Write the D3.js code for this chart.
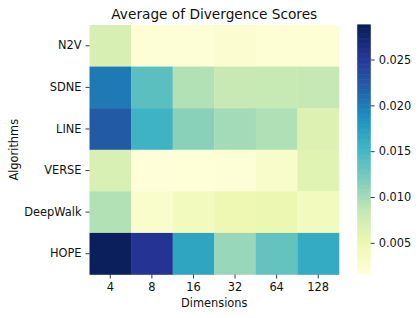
<!DOCTYPE html>
<html>
<head>
<meta charset="utf-8">
<script src="https://cdn.jsdelivr.net/npm/d3@7"></script>
<style>
  html, body { margin: 0; padding: 0; background: #fff; }
  svg { display: block; font-family: "DejaVu Sans", sans-serif; }
</style>
</head>
<body>
<svg id="chart" width="420" height="318"></svg>
<script>
const algorithms = ["N2V", "SDNE", "LINE", "VERSE", "DeepWalk", "HOPE"];
const dimensions = ["4", "8", "16", "32", "64", "128"];
const n2v      = [0.0070, 0.0019, 0.0019, 0.0024, 0.0020, 0.0020];
const sdne     = [0.0202, 0.0138, 0.0094, 0.0083, 0.0084, 0.0085];
const line     = [0.0223, 0.0155, 0.0113, 0.0101, 0.0095, 0.0064];
const verse    = [0.0069, 0.0017, 0.0018, 0.0019, 0.0029, 0.0062];
const deepwalk = [0.0094, 0.0027, 0.0039, 0.0049, 0.0051, 0.0040];
const hope     = [0.0285, 0.0254, 0.0168, 0.0106, 0.0133, 0.0163];
const rows = [n2v, sdne, line, verse, deepwalk, hope];
const colorbarTicks = [0.005, 0.010, 0.015, 0.020, 0.025];
const vmin = 0.0016, vmax = 0.0288;
const ylgnbu = ["#ffffd9", "#edf8b1", "#c7e9b4", "#7fcdbb", "#41b6c4", "#1d91c0", "#225ea8", "#253494", "#081d58"];

(function () {
const svg = d3.select("#chart");
const pLeft = 89.5, pRight = 339, pTop = 25, pBottom = 274.5;
const tickFont = "11.4px";

const x = d3.scaleBand().domain(dimensions).range([pLeft, pRight]);
const y = d3.scaleBand().domain(algorithms).range([pTop, pBottom]);
const color = d3.scaleLinear()
  .domain(d3.range(ylgnbu.length).map(i => vmin + (vmax - vmin) * i / (ylgnbu.length - 1)))
  .range(ylgnbu)
  .clamp(true);

const cells = [];
rows.forEach((r, i) => r.forEach((v, j) => cells.push({ alg: algorithms[i], dim: dimensions[j], v })));

svg.append("g").selectAll("rect").data(cells).join("rect")
  .attr("x", d => x(d.dim))
  .attr("y", d => y(d.alg))
  .attr("width", x.bandwidth() + 0.3)
  .attr("height", y.bandwidth() + 0.3)
  .attr("fill", d => color(d.v));

const xAxis = svg.append("g").attr("transform", `translate(0,${pBottom})`)
  .call(d3.axisBottom(x).tickSize(4).tickPadding(4));
const yAxis = svg.append("g").attr("transform", `translate(${pLeft},0)`)
  .call(d3.axisLeft(y).tickSize(4).tickPadding(4));
[xAxis, yAxis].forEach(a => {
  a.select(".domain").remove();
  a.selectAll("line").attr("stroke", "#222").attr("stroke-width", 0.9);
  a.selectAll("text").attr("fill", "#111").style("font-size", tickFont).style("font-family", "DejaVu Sans, sans-serif");
});

svg.append("text").attr("x", (pLeft + pRight) / 2).attr("y", 19)
  .attr("text-anchor", "middle").style("font-size", "13.7px").attr("fill", "#111")
  .text("Average of Divergence Scores");
svg.append("text").attr("x", (pLeft + pRight) / 2).attr("y", 306.5)
  .attr("text-anchor", "middle").style("font-size", tickFont).attr("fill", "#111")
  .text("Dimensions");
svg.append("text").attr("transform", `translate(18,${(pTop + pBottom) / 2}) rotate(-90)`)
  .attr("text-anchor", "middle").style("font-size", tickFont).attr("fill", "#111")
  .text("Algorithms");

const cbX = 357.3, cbW = 13.4, cbTop = 24.7, cbBottom = 274;
const cy = d3.scaleLinear().domain([vmin, vmax]).range([cbBottom, cbTop]);
const nSteps = 200;
const steps = d3.range(0, nSteps).map(i => vmin + (vmax - vmin) * i / nSteps);
const stepH = (cbBottom - cbTop) / nSteps;
svg.append("g").selectAll("rect").data(steps).join("rect")
  .attr("x", cbX).attr("width", cbW)
  .attr("y", d => cy(d) - stepH - 0.3)
  .attr("height", stepH + 0.6)
  .attr("fill", d => color(d + (vmax - vmin) / (2 * nSteps)));
const cAxis = svg.append("g").attr("transform", `translate(${cbX + cbW},0)`)
  .call(d3.axisRight(cy).tickValues(colorbarTicks).tickFormat(d3.format(".3f")).tickSize(4).tickPadding(4));
cAxis.select(".domain").remove();
cAxis.selectAll("line").attr("stroke", "#222").attr("stroke-width", 0.9);
cAxis.selectAll("text").attr("fill", "#111").style("font-size", tickFont).style("font-family", "DejaVu Sans, sans-serif");
})();
</script>
</body>
</html>
